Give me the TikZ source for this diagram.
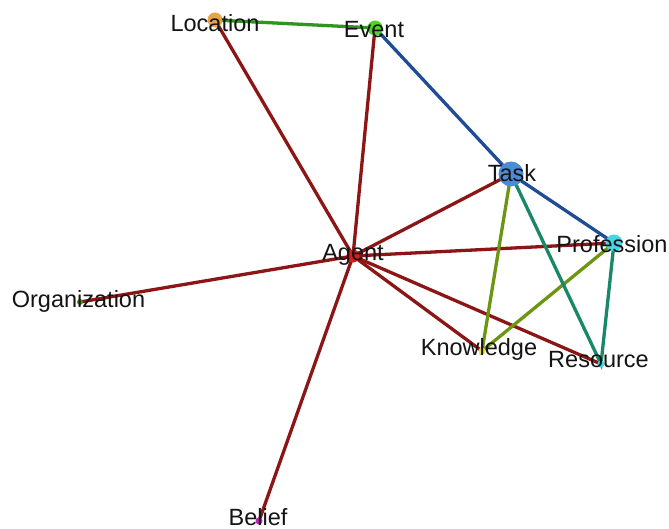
\documentclass[tikz,border=0pt]{standalone}
\usepackage{fontspec}
\setmainfont{Liberation Sans}
\usetikzlibrary{backgrounds}

\definecolor{agentred}{RGB}{140,22,22}
\definecolor{linkgreen}{RGB}{46,150,30}
\definecolor{linkblue}{RGB}{30,76,150}
\definecolor{linkolive}{RGB}{108,150,18}
\definecolor{linkteal}{RGB}{24,136,104}
\definecolor{dotorange}{RGB}{234,164,70}
\definecolor{dotgreen}{RGB}{80,210,40}
\definecolor{dotblue}{RGB}{76,140,214}
\definecolor{dotcyan}{RGB}{70,214,230}
\definecolor{dotred}{RGB}{224,24,24}
\definecolor{dotyellow}{RGB}{232,226,70}
\definecolor{dotpink}{RGB}{200,30,200}

\begin{document}
\begin{tikzpicture}[
  x=1bp,y=-1bp,
  dot/.style={circle,inner sep=0pt,draw=none},
  link/.style={line width=3.3bp},
  tag/.style={font=\fontsize{23.5bp}{28bp}\selectfont,text=black!92,
    inner sep=0pt,anchor=base}
]
  \useasboundingbox (0,0) rectangle (669,529);

  % entity dots
  \node[dot,fill=dotorange,minimum size=15bp] (loc) at (215,20) {};
  \node[dot,fill=dotgreen,minimum size=15bp] (evt) at (375,28) {};
  \node[dot,fill=dotblue,minimum size=25bp] (task) at (511,174) {};
  \node[dot,fill=dotcyan,minimum size=17bp] (prof) at (614,243) {};
  \node[dot,fill=dotred,minimum size=13bp] (agt) at (353,256) {};
  \node[dot,fill=dotgreen!70!black,minimum size=6bp] (org) at (80,302) {};
  \node[dot,fill=dotyellow,minimum size=7bp] (know) at (482,351) {};
  \node[dot,fill=dotcyan,minimum size=7bp] (res) at (601,364) {};
  \node[dot,fill=dotpink,minimum size=7bp] (bel) at (259,521) {};

  % links
  \begin{scope}[on background layer]
    \fill[white] (0,0) rectangle (669,529);
    \draw[link,draw=linkgreen] (loc.center) -- (evt.center);
    \draw[link,draw=linkblue] (evt.center) -- (task.center) -- (prof.center);
    \foreach \other in {loc,evt,task,prof,org,know,res,bel}
      \draw[link,draw=agentred] (agt.center) -- (\other.center);
    \draw[link,draw=linkolive] (task.center) -- (know.center) -- (prof.center);
    \draw[link,draw=linkteal] (task.center) -- (res.center) -- (prof.center);
  \end{scope}

  % labels
  \foreach \who/\name/\dx/\dy in
    {loc/Location/0/12,evt/Event/-1/10,task/Task/1/8,
     prof/Profession/-2/10,agt/Agent/0/5,org/Organization/-1.5/5,
     know/Knowledge/-3/4,res/Resource/-2.5/3,bel/Belief/-1/4}
  {
    \node[tag] (\who-tag) at ([shift={(\dx,\dy)}]\who.center) {\name};
  }
\end{tikzpicture}
\end{document}
